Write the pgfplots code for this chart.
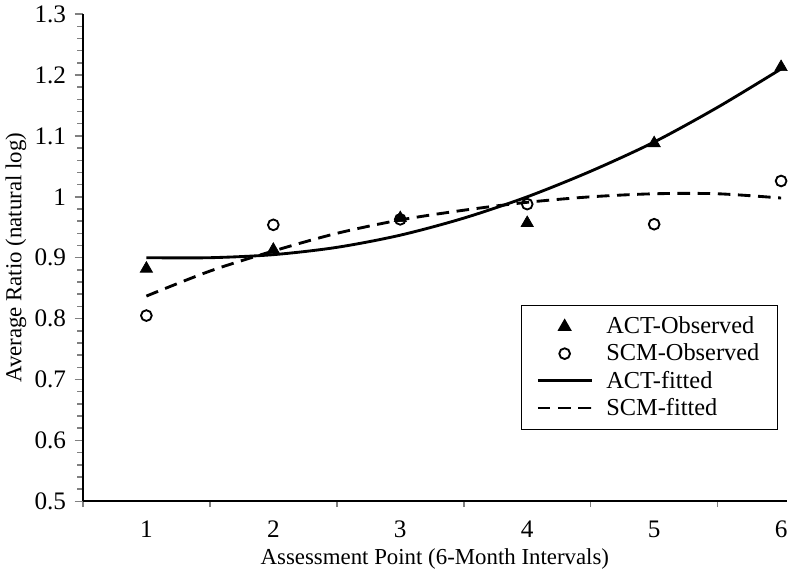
\documentclass[border=0pt]{standalone}
\usepackage{pgfplots}
\pgfplotsset{compat=1.18}
\usepackage{fontspec}
\setmainfont{Liberation Serif}
\begin{document}
\begin{tikzpicture}
\pgfplotsset{myleg/.style={legend image code/.code={\draw[mark repeat=2,mark phase=2,##1] plot coordinates {(0pt,0pt) (16pt,0pt) (32pt,0pt)};}}}
\begin{axis}[
  scale only axis,
  width=419pt, height=290pt,
  xmin=0.5, xmax=6.045, ymin=0.5, ymax=1.3,
  axis x line=bottom, axis y line=left,
  axis line style={-, line width=1.2pt},
  font=\fontsize{14}{16}\selectfont,
  /pgf/number format/assume math mode=true,
  xtick={1,2,3,4,5,6},
  major x tick style={draw=none},
  minor xtick={0.5,1.5,2.5,3.5,4.5,5.5},
  minor x tick style={line width=0.9pt},
  xticklabel style={yshift=-3pt, font=\fontsize{15}{17}\selectfont},
  ytick={0.5,0.6,0.7,0.8,0.9,1,1.1,1.2,1.3},
  yticklabels={0.5,0.6,0.7,0.8,0.9,1,1.1,1.2,1.3},
  yticklabel style={xshift=-1.5pt, font=\fontsize{15}{17}\selectfont},
  minor y tick num=4,
  tick align=outside,
  major tick length=5pt, minor tick length=3.5pt,
  major y tick style={line width=0.9pt},
  minor y tick style={line width=0.9pt},
  xlabel={Assessment Point (6-Month Intervals)},
  ylabel={Average Ratio (natural log)},
  label style={font=\fontsize{13.6}{16}\selectfont},
  xlabel style={yshift=0pt},
  ylabel style={yshift=-2pt},
  legend style={at={(0.988,0.146)}, anchor=south east, draw=black, line width=0.7pt,
    font=\fontsize{14.5}{16}\selectfont, row sep=0.5pt, column sep=6pt, inner xsep=9pt, inner ysep=5pt},
  legend cell align=left,
]
\addplot[only marks, mark=triangle*, mark size=4.2pt, black, myleg] coordinates {
 (1,0.882) (2,0.913) (3,0.965) (4,0.957) (5,1.088) (6,1.213)};
\addlegendentry{ACT-Observed}
\addplot[only marks, mark=o, mark size=3.2pt, black, line width=1.1pt, myleg] coordinates {
 (1,0.805) (2,0.954) (3,0.963) (4,0.988) (5,0.955) (6,1.026)};
\addlegendentry{SCM-Observed}
\addplot[smooth, black, line width=1.7pt, no marks, myleg] coordinates {
 (1,0.900) (1.5,0.900) (2,0.905) (2.5,0.917) (3,0.937) (3.5,0.965) (4,1.000) (4.5,1.042) (5,1.090) (5.5,1.147) (6,1.210)};
\addlegendentry{ACT-fitted}
\addplot[smooth, black, line width=1.7pt, no marks, dash pattern=on 7.5pt off 4.5pt, myleg] coordinates {
 (1,0.837) (1.5,0.878) (2,0.911) (2.5,0.940) (3,0.962) (3.5,0.978) (4,0.991) (4.5,1.000) (5,1.005) (5.5,1.005) (6,0.998)};
\addlegendentry{SCM-fitted}
\end{axis}
\end{tikzpicture}
\end{document}
